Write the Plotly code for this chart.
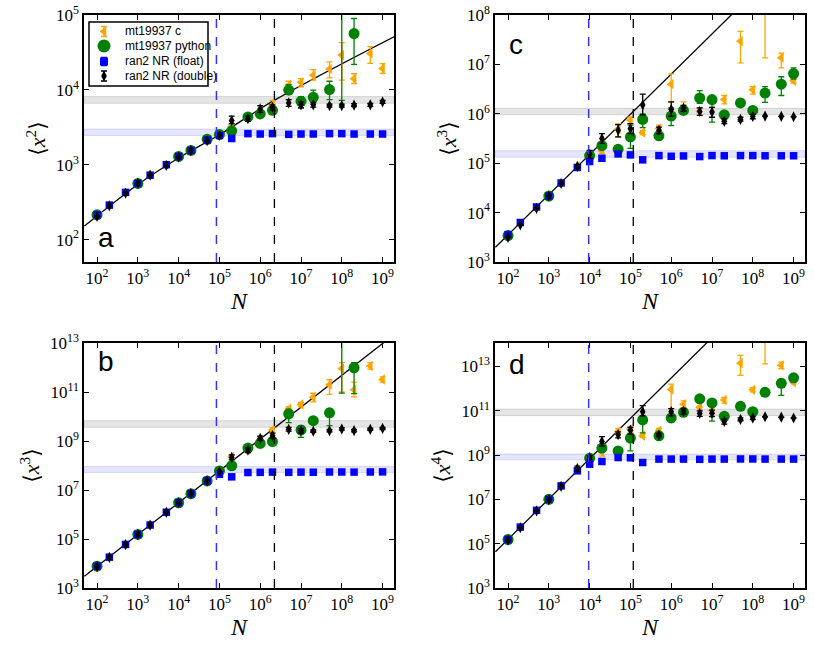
# %%
import numpy as np
import plotly.graph_objects as go
from plotly.subplots import make_subplots

# %%
# sample sizes N (shared by all panels)
N = [1e2, 2e2, 5e2, 1e3, 2e3, 5e3, 1e4, 2e4, 5e4, 1e5, 2e5, 5e5,
     1e6, 2e6, 5e6, 1e7, 2e7, 5e7, 1e8, 2e8, 5e8, 1e9]
_ = None

# values, in log10 units
# ---- panel a  <x^2>
a_blue = [2.33, 2.46, 2.63, 2.75, 2.86, 3.00, 3.11, 3.19, 3.33, 3.39, 3.35, 3.415,
          3.41, 3.415, 3.405, 3.41, 3.41, 3.415, 3.415, 3.41, 3.41, 3.41]
a_black = [2.31, 2.45, 2.62, 2.75, 2.86, 2.99, 3.10, 3.19, 3.32, 3.39, 3.59, 3.615,
           3.745, 3.767, 3.825, 3.80, 3.80, 3.79, 3.79, 3.795, 3.80, 3.84]
a_black_lo = [_, _, _, _, _, _, _, _, _, _, 3.55, 3.58, 3.70, 3.73, 3.78, 3.76, 3.77, 3.77, 3.77, 3.775, 3.78, 3.82]
a_black_hi = [_, _, _, _, _, _, _, _, _, _, 3.65, 3.65, 3.79, 3.80, 3.87, 3.84, 3.83, 3.81, 3.81, 3.815, 3.82, 3.86]
a_green = [2.33, _, _, 2.75, _, _, 3.11, 3.19, 3.34, 3.405, 3.453, 3.638,
           3.678, 3.726, 3.995, 3.847, 3.90, 4.004, 5.1, 4.752, _, _]
a_green_lo = [_, _, _, _, _, _, _, _, _, _, _, _, _, _, 3.94, 3.76, 3.81, 3.87, 3.86, 4.34, _, _]
a_green_hi = [_, _, _, _, _, _, _, _, _, _, _, _, _, _, 4.07, 3.91, 3.995, 4.115, 5.39, 4.953, _, _]
a_orange = [_, _, _, _, _, _, 3.11, 3.19, 3.33, 3.40, 3.51, 3.64,
            3.72, 3.79, 4.06, 4.10, 4.196, 4.28, 4.465, 4.147, 4.487, 4.286]
a_orange_lo = [_, _, _, _, _, _, _, _, _, _, 3.48, _, _, 3.735, 4.004, 4.04, 4.13, 4.16, 4.13, 4.085, 4.353, 4.22]
a_orange_hi = [_, _, _, _, _, _, _, _, _, _, 3.54, _, _, 3.86, 4.115, 4.15, 4.27, 4.375, 4.63, 4.215, 4.577, 4.35]

# ---- panel b  <x^3>
b_blue = [3.89, 4.258, 4.778, 5.186, 5.57, 6.09, 6.48, 6.85, 7.37, 7.64, 7.537, 7.713,
          7.72, 7.73, 7.72, 7.73, 7.725, 7.735, 7.735, 7.73, 7.735, 7.74]
b_black = [3.87, 4.25, 4.77, 5.18, 5.57, 6.09, 6.48, 6.85, 7.37, 7.754, 8.33, 8.63,
           9.11, 9.217, 9.475, 9.42, 9.40, 9.42, 9.49, 9.42, 9.475, 9.516]
b_black_lo = [_, _, _, _, _, _, _, _, _, _, 8.23, 8.53, 9.03, 9.12, 9.40, 9.32, 9.35, 9.37, 9.44, 9.37, 9.43, 9.47]
b_black_hi = [_, _, _, _, _, _, _, _, _, _, 8.43, 8.72, 9.20, 9.32, 9.56, 9.50, 9.45, 9.47, 9.54, 9.47, 9.52, 9.56]
b_green = [3.89, _, _, 5.186, _, _, 6.48, 6.85, 7.37, 7.78, 7.99, 8.71,
           8.90, 8.98, 10.107, 9.45, 9.83, 10.15, 13.3, 11.99, _, _]
b_green_lo = [_, _, _, _, _, _, _, _, _, _, _, _, _, _, 9.75, 9.15, _, 9.63, 10.95, 10.93, _, _]
b_green_hi = [_, _, _, _, _, _, _, _, _, _, _, _, _, _, 10.30, 9.63, _, 10.31, 13.6, 12.20, _, _]
b_orange = [_, _, _, _, _, _, 6.48, 6.85, 7.37, 7.77, 8.35, 8.65,
            9.05, 9.45, 10.31, 10.49, 10.79, 11.30, 11.96, 11.09, 12.06, 11.51]
b_orange_lo = [_, _, _, _, _, _, _, _, _, _, 8.28, _, _, 9.35, 10.22, 10.40, 10.60, 10.90, 11.0, 10.80, 11.93, 11.40]
b_orange_hi = [_, _, _, _, _, _, _, _, _, _, 8.42, _, _, 9.55, 10.40, 10.58, 10.95, 11.50, 12.2, 11.40, 12.20, 11.62]

# ---- panel c  <x^3>
c_blue = [3.554, 3.80, 4.114, 4.334, 4.60, 4.914, 5.034, 5.10, 5.188, 5.168, 5.068, 5.154,
          5.14, 5.147, 5.134, 5.154, 5.15, 5.154, 5.154, 5.15, 5.15, 5.15]
c_black = [3.50, 3.753, 4.087, 4.334, 4.59, 4.934, 5.18, 5.50, 5.667, 5.70, 6.18, 5.667,
           6.088, 6.114, 6.048, 6.034, 5.848, 5.887, 5.947, 5.954, 5.947, 5.94]
c_black_lo = [_, _, _, _, _, 4.89, 5.10, 5.40, 5.534, 5.60, 5.98, 5.60, 5.95, 6.05, 5.97, 5.93, 5.80, 5.85, 5.90, _, _, _]
c_black_hi = [_, _, _, _, _, 4.97, 5.26, 5.60, 5.78, 5.80, 6.40, 5.73, 6.24, 6.17, 6.12, 6.13, 5.90, 5.93, 5.99, _, _, _]
c_green = [3.534, _, _, 4.334, _, _, 5.154, 5.354, 5.28, 5.534, 5.887, 5.554,
           5.954, 6.068, 6.32, 6.288, 5.98, 6.22, 6.068, 6.42, 6.60, 6.814]
c_green_lo = [_, _, _, _, _, _, _, 5.30, _, 5.30, 5.72, 5.50, 5.76, 6.00, 6.21, 5.83, 5.95, 6.19, 6.00, 6.23, 6.37, 6.70]
c_green_hi = [_, _, _, _, _, _, _, 5.40, _, 5.77, 6.00, 5.60, 6.12, 6.12, 6.47, 6.33, 6.02, 6.25, 6.11, 6.55, 6.75, 6.93]
c_orange = [_, _, _, _, _, 4.93, 5.16, 5.25, 5.687, 5.867, 5.62, 5.70,
            6.60, 6.10, 6.05, 6.25, 6.288, 7.468, 6.488, 8.3, 7.134, 6.668]
c_orange_lo = [_, _, _, _, _, _, _, 5.20, 5.53, 5.80, 5.58, 5.63, 6.23, 6.02, 5.97, _, 6.20, 7.03, 6.40, 7.134, 6.93, 6.62]
c_orange_hi = [_, _, _, _, _, _, _, 5.30, 5.80, 5.93, 5.66, 5.77, 6.81, 6.24, 6.12, _, 6.37, 7.67, 6.55, 8.59, 7.23, 6.72]

# ---- panel d  <x^4>
d_blue = [5.19, 5.75, 6.507, 7.005, 7.61, 8.29, 8.59, 8.71, 8.89, 8.88, 8.664, 8.82,
          8.82, 8.82, 8.81, 8.82, 8.82, 8.825, 8.825, 8.82, 8.82, 8.82]
d_black = [5.16, 5.72, 6.48, 6.98, 7.59, 8.39, 8.89, 9.615, 9.92, 10.13, 10.96, 9.905,
           10.96, 10.97, 10.88, 10.89, 10.52, 10.61, 10.675, 10.73, 10.71, 10.675]
d_black_lo = [_, _, _, _, _, 8.25, 8.80, 9.41, 9.78, 9.95, 10.77, 9.83, 10.77, 10.85, 10.75, 10.74, 10.40, 10.55, 10.60, _, _, _]
d_black_hi = [_, _, _, _, _, 8.50, 8.98, 9.83, 10.05, 10.25, 11.23, 9.98, 11.10, 11.08, 11.00, 11.03, 10.62, 10.68, 10.75, _, _, _]
d_green = [5.19, _, _, 7.005, _, _, 8.86, 9.315, 9.19, 9.77, 10.585, 9.87,
           10.675, 10.93, 11.54, 11.355, 10.75, 11.20, 10.96, 11.835, 12.24, 12.49]
d_green_lo = [_, _, _, _, _, _, _, 9.15, _, 9.19, 10.0, _, 10.5, 10.80, _, 10.53, 10.65, _, 10.85, 11.65, 11.70, 12.30]
d_green_hi = [_, _, _, _, _, _, _, 9.45, _, 10.10, 10.70, _, 10.85, 11.05, _, 11.50, 10.85, _, 11.05, 12.0, 12.42, 12.60]
d_orange = [_, _, _, _, _, _, 8.86, 9.14, 10.07, 10.18, 9.87, 10.10,
            11.96, 11.30, 11.16, 11.0, 11.49, 13.15, 11.945, 14.3, 13.05, 12.29]
d_orange_lo = [_, _, _, _, _, _, _, 8.95, 9.95, 10.02, 9.80, 10.00, 11.10, 11.14, _, _, 11.35, 12.60, 11.85, 13.12, 12.90, 12.22]
d_orange_hi = [_, _, _, _, _, _, _, 9.30, 10.20, 10.30, 9.95, 10.20, 12.20, 11.45, _, _, 11.60, 13.50, 12.05, 14.59, 13.20, 12.37]

# reference curves (log10 N, log10 y)
a_line_x = [1.69, 2.0, 3.0, 4.0, 5.0, 6.35, 9.28]
a_line_y = [2.18, 2.315, 2.735, 3.09, 3.40, 3.862, 4.71]
b_line_x = [1.69, 9.3]
b_line_y = [3.477, 13.37]
c_line_x = [1.69, 8.0]
c_line_y = [3.297, 8.43]
d_line_x = [1.69, 7.5]
d_line_y = [4.636, 15.21]

# bands (log10) and dashed N positions (log10)
a_gray, a_blueband = [3.82, 3.91], [3.39, 3.476]
b_gray, b_blueband = [9.56, 9.83], [7.71, 7.96]
c_gray, c_blueband = [5.98, 6.11], [5.12, 5.254]
d_gray, d_blueband = [10.78, 11.08], [8.786, 9.045]
ab_vlines = [4.927, 6.348]
cd_vlines = [3.976, 5.07]

legend_names = ['mt19937 c', 'mt19937 python', 'ran2 NR (float)', 'ran2 NR (double)']

# %%
ORANGE = '#ffa500'
GREEN = '#008000'
BLUE = '#0000ff'
SERIF = 'Liberation Serif, DejaVu Serif, serif'
SANS = 'Liberation Sans, Arial, sans-serif'


def lin(v):
    return np.array([np.nan if t is None else 10 ** t for t in v])


def err_dict(y, lo, hi, color):
    yv = lin(y)
    up = np.nan_to_num(lin(hi) - yv)
    dn = np.nan_to_num(yv - lin(lo))
    return dict(type='data', symmetric=False, array=up, arrayminus=dn,
                color=color, thickness=1.3, width=3)


fig = make_subplots(rows=2, cols=2)

panels = [
    (1, 1, a_orange, a_orange_lo, a_orange_hi, a_green, a_green_lo, a_green_hi,
     a_blue, a_black, a_black_lo, a_black_hi),
    (2, 1, b_orange, b_orange_lo, b_orange_hi, b_green, b_green_lo, b_green_hi,
     b_blue, b_black, b_black_lo, b_black_hi),
    (1, 2, c_orange, c_orange_lo, c_orange_hi, c_green, c_green_lo, c_green_hi,
     c_blue, c_black, c_black_lo, c_black_hi),
    (2, 2, d_orange, d_orange_lo, d_orange_hi, d_green, d_green_lo, d_green_hi,
     d_blue, d_black, d_black_lo, d_black_hi),
]
lines = {(1, 1): (a_line_x, a_line_y, 'spline'), (2, 1): (b_line_x, b_line_y, 'linear'),
         (1, 2): (c_line_x, c_line_y, 'linear'), (2, 2): (d_line_x, d_line_y, 'linear')}

for (r, c, o, olo, ohi, g, glo, ghi, bl, k, klo, khi) in panels:
    lx, ly, shp = lines[(r, c)]
    fig.add_trace(go.Scatter(x=[10 ** t for t in lx], y=[10 ** t for t in ly], mode='lines',
                             line=dict(color='black', width=1.3, shape=shp), hoverinfo='skip'),
                  row=r, col=c)
    fig.add_trace(go.Scatter(x=N, y=lin(o), mode='markers', name=legend_names[0],
                             marker=dict(symbol='triangle-left', size=9, color=ORANGE),
                             error_y=err_dict(o, olo, ohi, ORANGE)), row=r, col=c)
    fig.add_trace(go.Scatter(x=N, y=lin(g), mode='markers', name=legend_names[1],
                             marker=dict(symbol='circle', size=11, color=GREEN),
                             error_y=err_dict(g, glo, ghi, GREEN)), row=r, col=c)
    fig.add_trace(go.Scatter(x=N, y=lin(bl), mode='markers', name=legend_names[2],
                             marker=dict(symbol='square', size=7.5, color=BLUE)), row=r, col=c)
    fig.add_trace(go.Scatter(x=N, y=lin(k), mode='markers', name=legend_names[3],
                             marker=dict(symbol='diamond-tall', size=8, color='black'),
                             error_y=err_dict(k, klo, khi, 'black')), row=r, col=c)

# bands and dashed lines
bands = [(1, 1, a_gray, a_blueband, ab_vlines), (2, 1, b_gray, b_blueband, ab_vlines),
         (1, 2, c_gray, c_blueband, cd_vlines), (2, 2, d_gray, d_blueband, cd_vlines)]
for r, c, gb, bb, vl in bands:
    fig.add_hrect(y0=10 ** gb[0], y1=10 ** gb[1], fillcolor='rgba(0,0,0,0.10)',
                  line=dict(color='rgba(0,0,0,0.12)', width=1), layer='below', row=r, col=c)
    fig.add_hrect(y0=10 ** bb[0], y1=10 ** bb[1], fillcolor='rgba(0,0,255,0.10)',
                  line=dict(color='rgba(0,0,255,0.12)', width=1), layer='below', row=r, col=c)
    fig.add_vline(x=10 ** vl[0], line=dict(color='#3333ff', width=1.5, dash='dash'), row=r, col=c)
    fig.add_vline(x=10 ** vl[1], line=dict(color='black', width=1.3, dash='dash'), row=r, col=c)

# axes
xdom = {1: [84 / 814, 394 / 814], 2: [495 / 814, 805 / 814]}
ydom = {1: [1 - 262 / 646, 1 - 15 / 646], 2: [1 - 588 / 646, 1 - 343 / 646]}
yranges = {(1, 1): [1.70, 5.0], (2, 1): [3, 13], (1, 2): [3, 8], (2, 2): [3, 14.06]}
yticks = {(1, 1): [2, 3, 4, 5], (2, 1): [3, 5, 7, 9, 11, 13],
          (1, 2): [3, 4, 5, 6, 7, 8], (2, 2): [3, 5, 7, 9, 11, 13]}
ytitles = {(1, 1): '⟨<i>x</i><sup>2</sup>⟩', (2, 1): '⟨<i>x</i><sup>3</sup>⟩',
           (1, 2): '⟨<i>x</i><sup>3</sup>⟩', (2, 2): '⟨<i>x</i><sup>4</sup>⟩'}
xt = list(range(2, 10))
axis_common = dict(type='log', showgrid=False, zeroline=False, showline=True, linecolor='black',
                   linewidth=1.5, mirror='allticks', ticks='inside', ticklen=5, tickwidth=1,
                   tickcolor='black', automargin=False,
                   tickfont=dict(family=SERIF, size=17, color='black'))
for (r, c), yr in yranges.items():
    fig.update_xaxes(axis_common, domain=xdom[c], range=[1.68, 9.28],
                     tickvals=[10 ** t for t in xt], ticktext=['10<sup>%d</sup>' % t for t in xt],
                     title=dict(text='<i>N</i>', font=dict(family=SERIF, size=24, color='black'),
                                standoff=0),
                     row=r, col=c)
    fig.update_yaxes(axis_common, domain=ydom[r], range=yr,
                     tickvals=[10 ** t for t in yticks[(r, c)]],
                     ticktext=['10<sup>%d</sup>' % t for t in yticks[(r, c)]],
                     title=dict(text=ytitles[(r, c)], font=dict(family=SERIF, size=22, color='black'),
                                standoff=4),
                     row=r, col=c)

# hand-built legend inside panel a (own hidden axes, units = pixels of the box)
leg_x = [15, 15, 15, 15]
leg_y = [9.5, 24, 39.5, 54]
leg_err = [5, 0, 4, 5]
leg_sym = ['triangle-left', 'circle', 'square', 'diamond-tall']
leg_size = [9, 13, 8, 8]
leg_col = [ORANGE, GREEN, BLUE, 'black']
fig.update_layout(
    xaxis5=dict(domain=[89 / 814, 208 / 814], range=[0, 119], visible=False, anchor='y5'),
    yaxis5=dict(domain=[1 - 86 / 646, 1 - 22 / 646], range=[64, 0], visible=False, anchor='x5'),
)
for i in range(4):
    fig.add_trace(go.Scatter(x=[leg_x[i]], y=[leg_y[i]], xaxis='x5', yaxis='y5', mode='markers',
                             marker=dict(symbol=leg_sym[i], size=leg_size[i], color=leg_col[i]),
                             error_y=dict(type='constant', value=leg_err[i], color=leg_col[i],
                                          thickness=1.3, width=3, visible=leg_err[i] > 0),
                             cliponaxis=False, hoverinfo='skip'))
    fig.add_annotation(text=legend_names[i], xref='paper', yref='y5', x=(89 + 34) / 814,
                       y=leg_y[i], xanchor='left', yanchor='middle', showarrow=False,
                       font=dict(family=SANS, size=12, color='black'))
fig.add_shape(type='rect', xref='paper', yref='paper', x0=89 / 814, x1=208 / 814,
              y0=1 - 86 / 646, y1=1 - 22 / 646, line=dict(color='black', width=1.5),
              fillcolor='rgba(0,0,0,0)', layer='above')

# panel letters
letters = [('a', 'x', 'y', 0.04, 0.03, 'bottom'), ('b', 'x3', 'y3', 0.04, 0.995, 'top'),
           ('c', 'x2', 'y2', 0.04, 0.95, 'top'), ('d', 'x4', 'y4', 0.04, 0.985, 'top')]
for t, xr, yr, px, py, ya in letters:
    fig.add_annotation(text=t, xref=xr + ' domain', yref=yr + ' domain', x=px, y=py,
                       xanchor='left', yanchor=ya, showarrow=False,
                       font=dict(family=SANS, size=28, color='black'))

fig.update_layout(
    width=814, height=646, margin=dict(l=0, r=0, t=0, b=0),
    plot_bgcolor='white', paper_bgcolor='white', showlegend=False,
)

# the page body has a default 8px margin; drop it so the figure sits at the window origin
fig.write_html("out.html", config={'displayModeBar': False},
               post_script="document.body.style.margin='0px';")
